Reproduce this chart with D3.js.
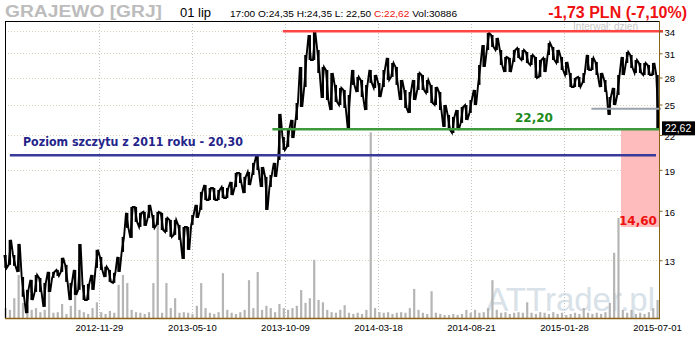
<!DOCTYPE html>
<html>
<head>
<meta charset="utf-8">
<script src="https://cdn.jsdelivr.net/npm/d3@7"></script>
<style>
  body { margin: 0; background: #fff; }
  svg { display: block; }
</style>
</head>
<body>
<svg id="chart" width="700" height="340"></svg>
<script>
// weekly samples (every 5 sessions): high / low, PLN
const hi = [13.29,14.16,13.29,13.92,12.12,11.48,11.97,12.22,12.07,11.82,12.38,12.38,12.48,13.13,12.75,11.82,12.48,13.92,11.72,11.77,
	12.22,13.58,13.18,12.65,12.48,12.33,13.18,14.34,15.86,16.26,16.26,15.86,15.93,16.40,15.72,15.93,15.86,15.53,15.40,15.40,
	15.08,14.95,14.95,15.72,16.40,17.32,17.83,17.61,17.61,17.46,17.68,17.61,18.06,18.76,18.76,18.45,18.83,19.56,20.23,19.23,
	18.45,18.60,19.56,24.03,21.82,22.46,23.43,25.16,29.27,30.78,33.47,33.90,31.43,29.27,28.90,28.54,27.14,26.80,26.57,26.02,
	28.90,28.07,27.71,27.14,28.90,28.30,27.37,28.90,30.40,29.76,29.27,27.71,26.57,26.35,27.71,28.54,28.30,27.71,27.14,26.91,
	26.35,24.95,23.93,23.73,24.43,24.74,24.95,25.48,26.57,29.51,32.09,33.76,33.47,33.06,31.43,30.52,30.40,31.43,31.69,31.43,
	31.17,30.78,30.52,30.14,30.40,32.37,31.83,31.43,30.52,29.89,28.54,27.95,28.07,28.54,30.78,30.40,29.89,28.54,27.71,25.80,
	26.80,28.30,30.52,31.17,30.78,30.14,29.76,29.76,29.51,29.76,28.30];
const lo = [12.59,12.75,12.70,12.38,11.15,10.41,11.00,11.38,11.38,10.69,11.38,12.07,12.17,12.38,11.87,11.00,11.24,11.48,11.00,11.00,
	11.48,12.59,12.48,12.12,11.87,11.82,12.38,13.46,14.89,14.28,15.27,14.95,15.02,15.53,14.89,15.08,14.76,14.64,14.34,14.46,
	14.16,13.07,13.58,15.08,15.53,16.06,16.74,16.74,16.74,16.74,16.88,16.88,17.10,17.68,17.98,17.24,17.83,18.60,18.99,17.68,
	16.06,17.68,18.45,19.80,20.65,20.92,21.72,23.43,24.74,26.91,30.14,30.14,28.54,25.70,25.48,24.43,25.27,24.95,24.64,22.65,
	27.14,26.35,25.80,24.43,27.37,26.80,25.80,26.91,27.71,28.07,27.14,25.48,24.64,24.13,25.48,26.57,26.57,26.24,25.16,24.95,
	24.43,22.75,22.46,22.18,22.46,23.14,23.43,24.13,24.95,27.14,29.27,31.43,31.83,31.43,29.51,28.66,28.66,29.89,30.40,30.14,
	29.76,29.51,27.95,28.07,28.66,30.78,30.14,29.76,28.90,28.30,26.91,26.91,26.91,27.37,28.90,28.90,28.30,26.91,26.35,23.93,
	24.95,26.02,28.30,29.76,29.14,28.54,28.54,28.30,28.30,28.30,22.62];
// weekly peak session volume, thousands of shares
const vol = [17,14,34,74,26,21,14,17,10,14,57,9,10,24,7,21,62,14,10,7,
	17,27,10,7,12,9,57,74,60,14,10,9,7,10,60,182,9,60,17,34,
	9,10,9,7,21,60,17,9,7,10,77,14,9,7,10,14,65,17,79,14,
	21,17,10,24,17,14,17,21,48,26,34,100,31,27,14,10,9,14,22,9,
	7,9,7,14,319,17,10,9,10,7,9,10,9,17,50,14,9,7,46,9,
	7,5,5,7,5,7,14,9,14,9,10,17,65,14,9,10,7,9,10,9,
	27,9,7,10,9,7,10,7,9,5,7,9,7,17,9,7,9,7,10,26,
	112,172,14,9,14,7,9,7,10,17,31];

const priceTicks = [13, 16, 19, 22, 25, 28, 31, 34];
const dateLabels = ["2012-11-29", "2013-05-10", "2013-10-09", "2014-03-18", "2014-08-21", "2015-01-28", "2015-07-01"];

const lastClose = 22.62;
const resistance = 34.0, resistanceFrom = 319;
const support = 22.54, supportFrom = 307, supportLabel = "22,20";
const peak2011 = 20.2, peak2011From = 5, peak2011Label = "Poziom szczytu z 2011 roku - 20,30";
const lowLevel = 24.56, lowLevelFrom = 674;
const target = 14.95, targetFrom = 708, targetLabel = "14,60";

const barsPerSample = 5, barsPerTick = 107;
const lastBar = (hi.length - 1) * barsPerSample;

const plotLeft = 5, plotRight = 659, plotTop = 21, plotBottom = 318;
const svg = d3.select("#chart");

const x = d3.scaleLinear().domain([0, lastBar]).range([plotLeft + 0.5, plotRight - 1.5]);
const y = d3.scaleLog().domain([10.2, 35.5]).range([plotBottom, plotTop]);
const yVol = d3.scaleLinear().domain([0, 500]).range([plotBottom, plotBottom - 291]);

const tickBars = dateLabels.map((d, i) => lastBar - (dateLabels.length - 1 - i) * barsPerTick);

// watermark
svg.append("text")
	.attr("x", 655).attr("y", 311)
	.attr("text-anchor", "end")
	.style("font-family", "Liberation Sans, Arial, sans-serif")
	.style("font-size", "33px")
	.style("fill", "#d8e2e8")
	.text("ATTrader.pl");

// grid
svg.append("g").selectAll("line")
	.data(priceTicks)
	.enter().append("line")
	.attr("x1", plotLeft).attr("x2", plotRight)
	.attr("y1", d => Math.round(y(d)) + 0.5).attr("y2", d => Math.round(y(d)) + 0.5)
	.style("stroke", "#d9d0bc").style("stroke-dasharray", "1,2");

svg.append("g").selectAll("line")
	.data(tickBars.slice(0, -1))
	.enter().append("line")
	.attr("x1", d => Math.round(x(d)) + 0.5).attr("x2", d => Math.round(x(d)) + 0.5)
	.attr("y1", plotTop).attr("y2", plotBottom)
	.style("stroke", "#c4c4c4").style("stroke-dasharray", "1,2");

// target zone
svg.append("rect")
	.attr("x", x(targetFrom)).attr("y", y(support))
	.attr("width", plotRight - x(targetFrom)).attr("height", y(target) - y(support))
	.style("fill", "#ffbcbc");

// volume
svg.append("g").selectAll("rect")
	.data(vol)
	.enter().append("rect")
	.attr("x", (d, i) => x(i * barsPerSample) - 1)
	.attr("y", d => yVol(d))
	.attr("width", 2.2)
	.attr("height", d => plotBottom - yVol(d))
	.style("fill", "#b5b5b5");

// price: each week's range drawn as a bar, joined high-low-high-low
const zig = [];
hi.forEach((h, i) => {
	const cx = x(i * barsPerSample);
	const pair = i % 2 ? [[cx - 1.2, lo[i]], [cx + 1.2, h]] : [[cx - 1.2, h], [cx + 1.2, lo[i]]];
	zig.push(pair[0], pair[1]);
});
svg.append("path")
	.datum(zig)
	.attr("d", d3.line().x(d => d[0]).y(d => y(d[1])))
	.style("fill", "none")
	.style("stroke", "#000")
	.style("stroke-width", 1.9);

svg.append("g").selectAll("line")
	.data(hi)
	.enter().append("line")
	.attr("x1", (d, i) => x(i * barsPerSample)).attr("x2", (d, i) => x(i * barsPerSample))
	.attr("y1", d => y(d)).attr("y2", (d, i) => y(lo[i]))
	.style("stroke", "#000").style("stroke-width", 2.4);

// horizontal levels
function level(value, from, x2, color, width) {
	svg.append("line")
		.attr("x1", x(from)).attr("x2", x2)
		.attr("y1", y(value)).attr("y2", y(value))
		.style("stroke", color).style("stroke-width", width);
}
level(resistance, resistanceFrom, 663, "#ff4444", 2.5);
level(support, supportFrom, plotRight, "#3c9a3c", 2.5);
level(peak2011, peak2011From, 656, "#3a3a9a", 2.5);
level(lowLevel, lowLevelFrom, 661, "#9aa3ab", 2);

svg.append("text")
	.attr("x", 23).attr("y", y(peak2011) - 9)
	.attr("textLength", 220).attr("lengthAdjust", "spacingAndGlyphs")
	.style("font-family", "DejaVu Sans, Verdana, sans-serif")
	.style("font-weight", "bold").style("font-size", "11.5px")
	.style("fill", "#24248a")
	.text(peak2011Label);

svg.append("text")
	.attr("x", 515).attr("y", y(support) - 7)
	.style("font-family", "DejaVu Sans, Verdana, sans-serif")
	.style("font-weight", "bold").style("font-size", "12px")
	.style("fill", "#1c8a1c")
	.text(supportLabel);

svg.append("text")
	.attr("x", 619).attr("y", y(target) - 2)
	.style("font-family", "DejaVu Sans, Verdana, sans-serif")
	.style("font-weight", "bold").style("font-size", "12px")
	.style("fill", "#ee1111")
	.text(targetLabel);

// frame
svg.append("line").attr("x1", plotLeft).attr("x2", plotRight).attr("y1", plotTop + 0.5).attr("y2", plotTop + 0.5)
	.style("stroke", "#000");
svg.append("line").attr("x1", plotLeft + 0.5).attr("x2", plotLeft + 0.5).attr("y1", plotTop).attr("y2", plotBottom)
	.style("stroke", "#000");
svg.append("line").attr("x1", plotLeft).attr("x2", plotRight + 1).attr("y1", plotBottom + 0.5).attr("y2", plotBottom + 0.5)
	.style("stroke", "#8a6414").style("stroke-width", 1.5);
svg.append("line").attr("x1", plotRight + 0.5).attr("x2", plotRight + 0.5).attr("y1", plotTop).attr("y2", plotBottom)
	.style("stroke", "#8a6414");

// right price axis
const yAxis = d3.axisRight(y).tickValues(priceTicks).tickSize(3).tickFormat(d3.format("d"));
const gy = svg.append("g").attr("transform", `translate(${plotRight + 0.5},0)`).call(yAxis);
gy.select(".domain").remove();
gy.selectAll("line").style("stroke", "#8a6414");
gy.selectAll("text")
	.attr("x", 5)
	.attr("dy", "0.45em")
	.style("font-family", "Liberation Sans, Arial, sans-serif")
	.style("font-size", "9.5px")
	.style("fill", "#000");

// bottom date axis
svg.append("g").selectAll("text")
	.data(dateLabels)
	.enter().append("text")
	.attr("x", (d, i) => x(tickBars[i]))
	.attr("y", 331)
	.attr("text-anchor", "middle")
	.style("font-family", "Liberation Sans, Arial, sans-serif")
	.style("font-size", "9.5px")
	.text(d => d);

// last close marker
svg.append("rect")
	.attr("x", plotRight + 3).attr("y", y(lastClose) - 7)
	.attr("width", 33).attr("height", 14)
	.style("fill", "#000");
svg.append("text")
	.attr("x", plotRight + 6).attr("y", y(lastClose) + 3.5)
	.style("font-family", "Liberation Sans, Arial, sans-serif")
	.style("font-size", "10.5px")
	.style("fill", "#fff")
	.text("22,62");

// header
svg.append("text")
	.attr("x", 5).attr("y", 17)
	.attr("textLength", 157).attr("lengthAdjust", "spacingAndGlyphs")
	.style("font-family", "Liberation Sans, Arial, sans-serif")
	.style("font-weight", "bold").style("font-size", "16px")
	.style("fill", "#bcbcbc")
	.text("GRAJEWO [GRJ]");

svg.append("text")
	.attr("x", 180).attr("y", 17)
	.style("font-family", "Liberation Sans, Arial, sans-serif")
	.style("font-size", "13px")
	.text("01 lip");

const quote = svg.append("text")
	.attr("x", 230).attr("y", 17)
	.attr("textLength", 227).attr("lengthAdjust", "spacingAndGlyphs")
	.style("font-family", "Liberation Sans, Arial, sans-serif")
	.style("font-size", "9.5px");
quote.append("tspan").text("17:00 O:24,35 H:24,35 L: 22,50 ");
quote.append("tspan").style("fill", "#ee1111").text("C:22,62");
quote.append("tspan").text(" Vol:30886");

svg.append("text")
	.attr("x", 687).attr("y", 18)
	.attr("text-anchor", "end")
	.style("font-family", "Liberation Sans, Arial, sans-serif")
	.style("font-weight", "bold").style("font-size", "16px")
	.style("fill", "#ee1111")
	.text("-1,73 PLN (-7,10%)");

svg.append("text")
	.attr("x", 573).attr("y", 30)
	.attr("textLength", 65).attr("lengthAdjust", "spacingAndGlyphs")
	.style("font-family", "Liberation Sans, Arial, sans-serif")
	.style("font-size", "10.5px")
	.style("fill", "#c8c8c8")
	.text("Interwał: dzień");
</script>
</body>
</html>
